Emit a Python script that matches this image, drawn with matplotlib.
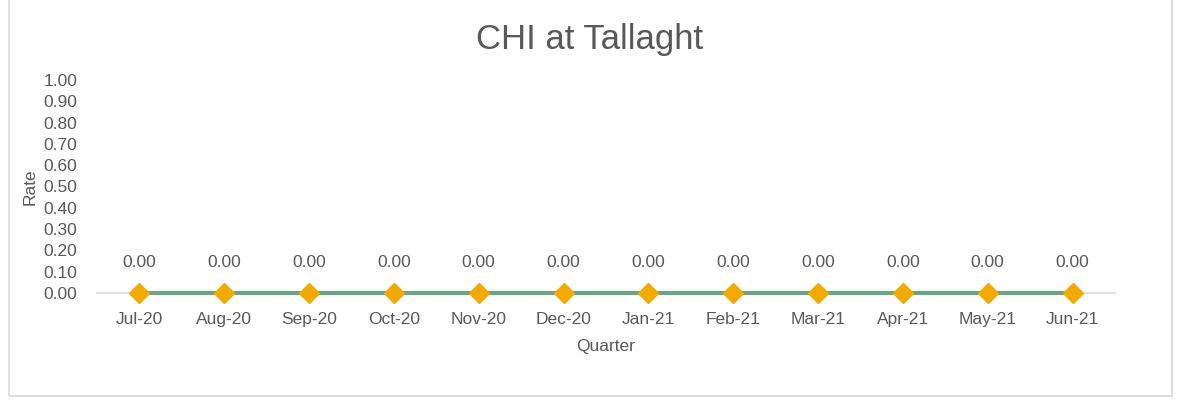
import matplotlib.pyplot as plt
from matplotlib.patches import Rectangle

months = ['Jul-20', 'Aug-20', 'Sep-20', 'Oct-20', 'Nov-20', 'Dec-20',
          'Jan-21', 'Feb-21', 'Mar-21', 'Apr-21', 'May-21', 'Jun-21']
rate = [0.00, 0.00, 0.00, 0.00, 0.00, 0.00, 0.00, 0.00, 0.00, 0.00, 0.00, 0.00]
yticks = [0.0, 0.1, 0.2, 0.3, 0.4, 0.5, 0.6, 0.7, 0.8, 0.9, 1.0]

plt.rcParams['font.family'] = ['Liberation Sans', 'DejaVu Sans']
txt = '#595959'

fig = plt.figure(figsize=(11.79, 4.08), dpi=100)
fig.patches.append(Rectangle((9/1179, 12/408), 1163/1179, 400/408, transform=fig.transFigure,
                             fill=False, edgecolor='#D9D9D9', linewidth=1.2))
ax = fig.add_axes([97/1179, 1 - 293/408, (1115-97)/1179, (293-80)/408])

x = list(range(len(months)))
ax.plot(x, rate, color='#6FA287', linewidth=3, zorder=3, clip_on=False)
ax.plot(x, rate, linestyle='none', marker='D', markersize=10.5, color='#F2A900',
        markeredgecolor='#F2A900', zorder=4, clip_on=False)
for xi, v in zip(x, rate):
    ax.annotate(f'{v:.2f}', (xi, v), xytext=(0, 22), textcoords='offset points',
                ha='center', va='center', fontsize=12.5, color=txt)

ax.set_xlim(-0.5, len(months) - 0.5)
ax.set_ylim(0, 1.0)
ax.set_yticks(yticks)
ax.set_yticklabels([f'{t:.2f}' for t in yticks])
ax.set_xticks(x)
ax.set_xticklabels(months)
ax.tick_params(axis='both', length=0, labelsize=12.5, labelcolor=txt)
ax.tick_params(axis='y', pad=14)
ax.tick_params(axis='x', pad=14)
for s in ['top', 'right', 'left']:
    ax.spines[s].set_visible(False)
ax.spines['bottom'].set_color('#D9D9D9')
ax.spines['bottom'].set_linewidth(1.2)

ax.set_xlabel('Quarter', fontsize=12.5, color=txt, labelpad=8)
ax.set_ylabel('Rate', fontsize=12.5, color=txt, labelpad=4)
fig.text(590/1179, 1 - 39/408, 'CHI at Tallaght', ha='center', va='center',
         fontsize=25, color=txt)

fig.savefig('out.png', dpi=100)
